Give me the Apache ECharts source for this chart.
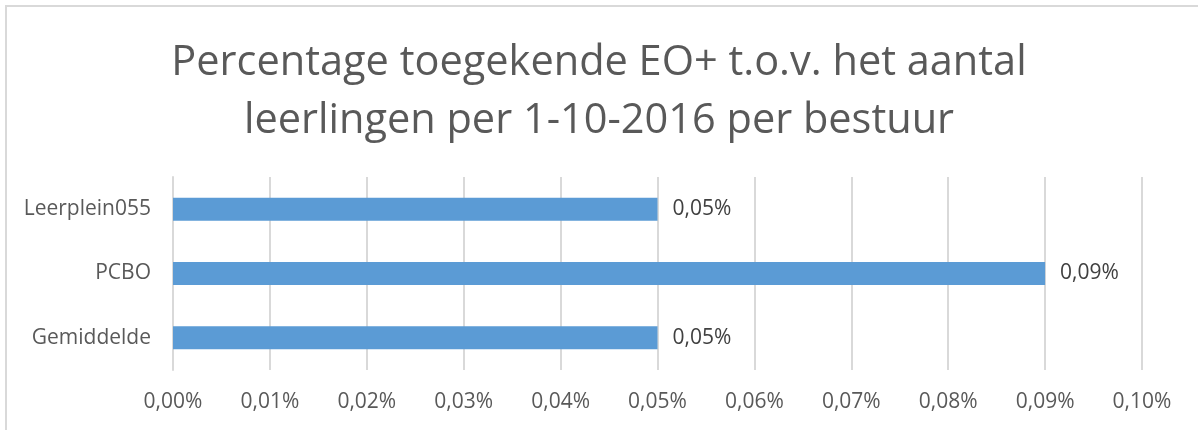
<!DOCTYPE html>
<html lang="nl">
<head>
    <meta charset="utf-8">
    <title>Percentage toegekende EO+</title>
    <script src="https://cdn.jsdelivr.net/npm/echarts@6/dist/echarts.min.js"></script>
    <style>
        body { margin: 0; background: #fff; }
        #frame { position: absolute; left: 5px; top: 5px; width: 1200px; height: 430px;
                 border-top: 2px solid #d9d9d9; border-left: 2px solid #d9d9d9; }
        #chart { position: absolute; left: 0; top: 0; width: 1198px; height: 430px; }
    </style>
</head>
<body>
<div id="frame"></div>
<div id="chart"></div>
<script type="text/javascript">
    // besturen en percentages (in %)
    var besturen = ['Leerplein055', 'PCBO', 'Gemiddelde'];
    var percentages = [0.05, 0.09, 0.05];

    function pct(v) {
        return v.toFixed(2).replace('.', ',') + '%';
    }

    var myChart = echarts.init(document.getElementById('chart'));
    var option = {
        backgroundColor: 'transparent',
        textStyle: { fontFamily: 'Open Sans' },
        title: {
            text: 'Percentage toegekende EO+ t.o.v. het aantal\nleerlingen per 1-10-2016 per bestuur',
            left: 'center',
            top: 29,
            textStyle: {
                fontFamily: 'Open Sans',
                fontSize: 41.5,
                fontWeight: 'normal',
                color: '#595959',
                lineHeight: 58
            }
        },
        grid: { left: 173, right: 56, top: 177, bottom: 60 },
        xAxis: {
            type: 'value',
            min: 0,
            max: 0.1,
            interval: 0.01,
            axisLine: { show: false },
            axisTick: { show: false },
            splitLine: { lineStyle: { color: '#d9d9d9', width: 2 } },
            axisLabel: {
                color: '#595959',
                fontSize: 21,
                margin: 22,
                formatter: pct
            }
        },
        yAxis: {
            type: 'category',
            data: besturen,
            inverse: true,
            axisLine: { show: true, lineStyle: { color: '#d9d9d9', width: 2 } },
            axisTick: { show: false },
            axisLabel: { color: '#595959', fontSize: 21, margin: 22 }
        },
        series: [{
            type: 'bar',
            data: percentages,
            barWidth: 23,
            itemStyle: { color: '#5b9bd5' },
            label: {
                show: true,
                position: 'right',
                distance: 15,
                color: '#404040',
                fontSize: 21,
                formatter: function (p) { return pct(p.value); }
            }
        }]
    };
    myChart.setOption(option);
</script>
</body>
</html>
